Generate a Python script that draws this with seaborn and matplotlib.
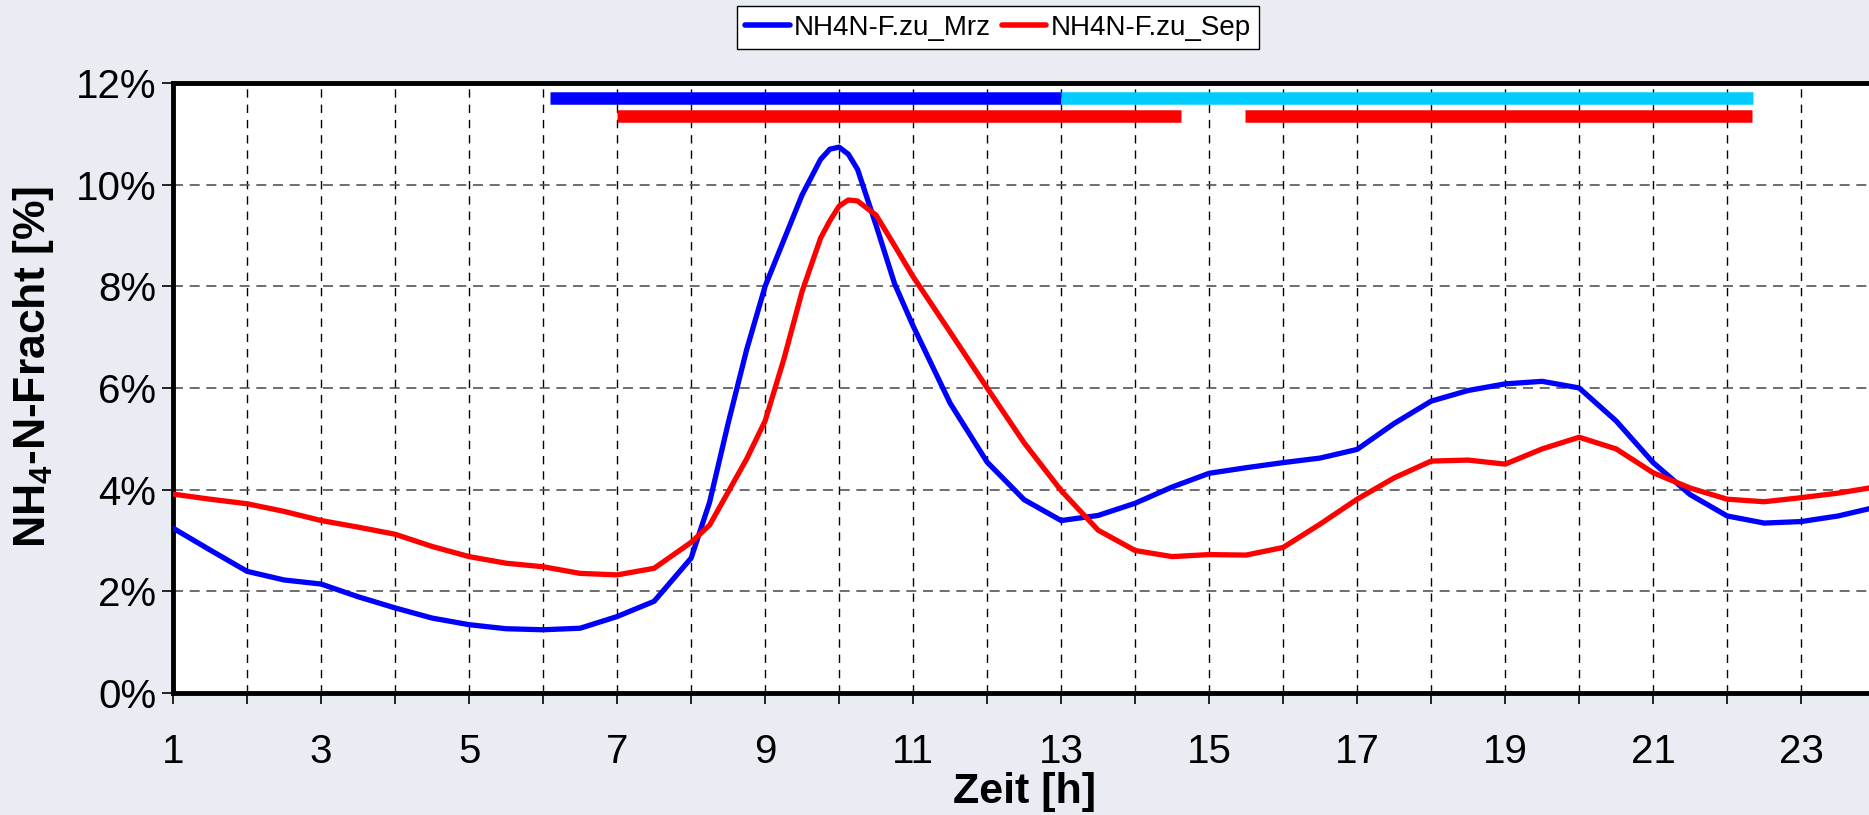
import pandas as pd
import matplotlib.pyplot as plt
import seaborn as sns

# hours of day and NH4-N load share (%)
hours = [1, 1.5, 2, 2.5, 3, 3.5, 4, 4.5, 5, 5.5, 6, 6.5, 7, 7.5, 8, 8.25, 8.5, 8.75,
         9, 9.25, 9.5, 9.75, 9.875, 10, 10.125, 10.25, 10.5, 10.75, 11, 11.5, 12, 12.5,
         13, 13.5, 14, 14.5, 15, 15.5, 16, 16.5, 17, 17.5, 18, 18.5, 19, 19.5, 20, 20.5,
         21, 21.5, 22, 22.5, 23, 23.5, 24]
mrz = [3.24, 2.81, 2.39, 2.22, 2.14, 1.89, 1.67, 1.47, 1.34, 1.26, 1.24, 1.27, 1.5, 1.8,
       2.65, 3.75, 5.3, 6.75, 8.0, 8.9, 9.8, 10.5, 10.7, 10.74, 10.6, 10.3, 9.2, 8.05,
       7.22, 5.7, 4.54, 3.8, 3.39, 3.49, 3.73, 4.05, 4.32, 4.43, 4.53, 4.62, 4.79, 5.3,
       5.74, 5.95, 6.08, 6.13, 6.0, 5.35, 4.53, 3.9, 3.48, 3.34, 3.37, 3.48, 3.65]
sep = [3.91, 3.81, 3.72, 3.57, 3.39, 3.26, 3.12, 2.88, 2.68, 2.55, 2.48, 2.35, 2.32, 2.45,
       2.96, 3.3, 3.95, 4.6, 5.35, 6.55, 7.9, 8.95, 9.29, 9.58, 9.7, 9.68, 9.4, 8.8,
       8.19, 7.1, 6.0, 4.92, 3.98, 3.2, 2.8, 2.68, 2.72, 2.71, 2.86, 3.32, 3.81, 4.23,
       4.56, 4.58, 4.5, 4.8, 5.03, 4.8, 4.33, 4.03, 3.81, 3.76, 3.84, 3.93, 4.05]

# period bars along the top of the plot
bar_start = [6.1, 13.0, 7.0, 15.48]
bar_end = [13.0, 22.35, 14.62, 22.33]
bar_level = [11.71, 11.71, 11.35, 11.35]
bar_color = ['#0000ff', '#00ccff', '#ff0000', '#ff0000']

xticks = list(range(1, 25))
xlabels = [str(h) if h % 2 == 1 else '' for h in xticks]
yticks = [0, 2, 4, 6, 8, 10, 12]

df = pd.DataFrame({'Zeit': hours, 'NH4N-F.zu_Mrz': mrz, 'NH4N-F.zu_Sep': sep})
df_long = df.melt(id_vars='Zeit', var_name='Reihe', value_name='Anteil')

sns.set_style('white')
plt.rcParams['font.family'] = ['Liberation Sans', 'DejaVu Sans']
plt.rcParams['mathtext.fontset'] = 'custom'
plt.rcParams['mathtext.bf'] = 'Liberation Sans:bold'
plt.rcParams['mathtext.rm'] = 'Liberation Sans'
plt.rcParams['text.color'] = 'black'
plt.rcParams['axes.labelcolor'] = 'black'
plt.rcParams['xtick.color'] = 'black'
plt.rcParams['ytick.color'] = 'black'

fig = plt.figure(figsize=(18.69, 8.15), dpi=100)
fig.patch.set_facecolor('#e9ecf2')
ax = fig.add_axes([0.0926, 0.150, 0.9107, 0.748])
ax.set_facecolor('white')

sns.lineplot(data=df_long, x='Zeit', y='Anteil', hue='Reihe',
             palette={'NH4N-F.zu_Mrz': '#0000ff', 'NH4N-F.zu_Sep': '#ff0000'},
             linewidth=3.8, ax=ax, zorder=3)
for ln in ax.get_lines():
    ln.set_solid_joinstyle('round')
    ln.set_solid_capstyle('round')

for s, e, lv, c in zip(bar_start, bar_end, bar_level, bar_color):
    ax.hlines(lv, s, e, colors=c, linewidth=9, capstyle='butt', zorder=4)

ax.set_xlim(1, 24)
ax.set_ylim(0, 12)
ax.set_xticks(xticks)
ax.set_xticklabels(xlabels)
ax.set_yticks(yticks)
ax.set_yticklabels([f'{v}%' for v in yticks])
ax.tick_params(axis='both', labelsize=29, direction='out', length=8, width=1.2,
               color='black', labelcolor='black', bottom=True, left=True)
ax.tick_params(axis='x', pad=21)
ax.tick_params(axis='y', pad=4)

ax.xaxis.grid(True, color='black', linestyle=(0, (6, 5)), linewidth=1.0)
ax.yaxis.grid(True, color='#555555', linestyle=(0, (6, 4)), linewidth=1.2)
ax.set_axisbelow(True)

for sp in ax.spines.values():
    sp.set_visible(True)
    sp.set_color('black')
    sp.set_linewidth(3.5)

ax.set_xlabel('Zeit [h]', fontsize=31, fontweight='bold', labelpad=1)
ax.set_ylabel(r'NH$_\mathbf{4}$-N-Fracht [%]', fontsize=32, fontweight='bold')
ax.yaxis.set_label_coords(-0.069, 0.535)

leg = ax.legend(loc='center', bbox_to_anchor=(0.534, 0.966), bbox_transform=fig.transFigure,
                ncol=2, fontsize=20, frameon=True, fancybox=False, framealpha=1,
                handlelength=1.6, handletextpad=0.15, columnspacing=0.4,
                borderpad=0.3, borderaxespad=0)
leg.get_frame().set_edgecolor('black')
leg.get_frame().set_linewidth(1.0)
for ln in leg.get_lines():
    ln.set_linewidth(4)

fig.savefig('out.png', dpi=100, facecolor=fig.get_facecolor())
